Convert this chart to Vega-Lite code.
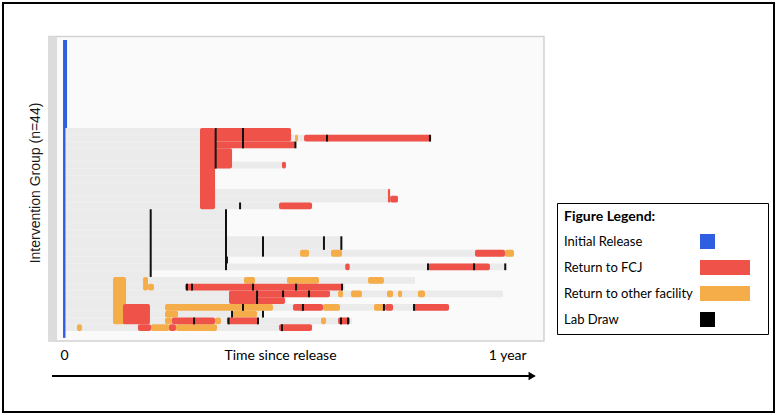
{
  "$schema": "https://vega.github.io/schema/vega-lite/v6.json",
  "width": 777,
  "height": 415,
  "autosize": {"type": "fit", "contains": "padding"},
  "padding": 3,
  "background": "white",
  "config": {
    "view": {"stroke": "black", "strokeWidth": 2},
    "axis": {"grid": false}
  },
  "datasets": {
    "release": [
      {"row": 0, "row2": 13, "start": -0.8, "end": 2.5, "type": "Initial Release"},
      {"row": 13, "row2": 44, "start": -0.8, "end": 1.2, "type": "Initial Release"}
    ],
    "followup": [
      {"row": 13, "row2": 14, "start": 0, "end": 187},
      {"row": 14, "row2": 15, "start": 0, "end": 303},
      {"row": 15, "row2": 16, "start": 0, "end": 191.1},
      {"row": 16, "row2": 17, "start": 0, "end": 138.4},
      {"row": 17, "row2": 18, "start": 0, "end": 138.4},
      {"row": 18, "row2": 19, "start": 0, "end": 182.8},
      {"row": 19, "row2": 20, "start": 0, "end": 124.4},
      {"row": 20, "row2": 21, "start": 0, "end": 124.4},
      {"row": 21, "row2": 22, "start": 0, "end": 124.4},
      {"row": 22, "row2": 23, "start": 0, "end": 268.4},
      {"row": 23, "row2": 24, "start": 0, "end": 275.1},
      {"row": 24, "row2": 25, "start": 0, "end": 204.3},
      {"row": 25, "row2": 26, "start": 0, "end": 133.4},
      {"row": 26, "row2": 27, "start": 0, "end": 133.4},
      {"row": 27, "row2": 28, "start": 0, "end": 133.4},
      {"row": 28, "row2": 29, "start": 0, "end": 133.4},
      {"row": 29, "row2": 30, "start": 0, "end": 229.8},
      {"row": 30, "row2": 31, "start": 0, "end": 229.8},
      {"row": 31, "row2": 32, "start": 0, "end": 370.6},
      {"row": 32, "row2": 33, "start": 0, "end": 135.1},
      {"row": 33, "row2": 34, "start": 0, "end": 364.9},
      {"row": 34, "row2": 35, "start": 0, "end": 71.4},
      {"row": 35, "row2": 36, "start": 0, "end": 289.1},
      {"row": 36, "row2": 37, "start": 0, "end": 231.4},
      {"row": 37, "row2": 38, "start": 0, "end": 361.6},
      {"row": 38, "row2": 39, "start": 0, "end": 183},
      {"row": 39, "row2": 40, "start": 0, "end": 317.1},
      {"row": 40, "row2": 41, "start": 0, "end": 163.9},
      {"row": 41, "row2": 42, "start": 0, "end": 237.2},
      {"row": 42, "row2": 43, "start": 0, "end": 204.3}
    ],
    "events": [
      {"row": 14, "row2": 15, "start": 190.3, "end": 192.7, "type": "Return to other facility"},
      {"row": 31, "row2": 32, "start": 194.4, "end": 201.8, "type": "Return to other facility"},
      {"row": 31, "row2": 32, "start": 219.9, "end": 229.0, "type": "Return to other facility"},
      {"row": 31, "row2": 32, "start": 363.2, "end": 370.6, "type": "Return to other facility"},
      {"row": 35, "row2": 42, "start": 40.4, "end": 51.1, "type": "Return to other facility"},
      {"row": 35, "row2": 37, "start": 65.1, "end": 69.2, "type": "Return to other facility"},
      {"row": 36, "row2": 37, "start": 69.2, "end": 74.1, "type": "Return to other facility"},
      {"row": 35, "row2": 36, "start": 148.2, "end": 157.3, "type": "Return to other facility"},
      {"row": 35, "row2": 36, "start": 183.7, "end": 210.0, "type": "Return to other facility"},
      {"row": 35, "row2": 36, "start": 250.4, "end": 263.5, "type": "Return to other facility"},
      {"row": 37, "row2": 38, "start": 225.7, "end": 229.8, "type": "Return to other facility"},
      {"row": 37, "row2": 38, "start": 236.4, "end": 245.4, "type": "Return to other facility"},
      {"row": 37, "row2": 38, "start": 266.0, "end": 271.0, "type": "Return to other facility"},
      {"row": 37, "row2": 38, "start": 275.1, "end": 278.4, "type": "Return to other facility"},
      {"row": 37, "row2": 38, "start": 291.5, "end": 297.3, "type": "Return to other facility"},
      {"row": 39, "row2": 40, "start": 83.2, "end": 172.1, "type": "Return to other facility"},
      {"row": 40, "row2": 41, "start": 83.2, "end": 93.9, "type": "Return to other facility"},
      {"row": 41, "row2": 42, "start": 83.2, "end": 88.9, "type": "Return to other facility"},
      {"row": 39, "row2": 40, "start": 213.3, "end": 227.3, "type": "Return to other facility"},
      {"row": 39, "row2": 40, "start": 255.3, "end": 264.4, "type": "Return to other facility"},
      {"row": 40, "row2": 41, "start": 139.2, "end": 159.0, "type": "Return to other facility"},
      {"row": 41, "row2": 42, "start": 124.4, "end": 129.3, "type": "Return to other facility"},
      {"row": 41, "row2": 42, "start": 211.7, "end": 215.8, "type": "Return to other facility"},
      {"row": 42, "row2": 43, "start": 10.7, "end": 14.8, "type": "Return to other facility"},
      {"row": 42, "row2": 43, "start": 71.7, "end": 86.5, "type": "Return to other facility"},
      {"row": 42, "row2": 43, "start": 92.2, "end": 126.0, "type": "Return to other facility"},
      {"row": 13, "row2": 25, "start": 112.0, "end": 124.4, "type": "Return to FCJ"},
      {"row": 13, "row2": 15, "start": 124.4, "end": 187.0, "type": "Return to FCJ"},
      {"row": 15, "row2": 16, "start": 124.4, "end": 191.1, "type": "Return to FCJ"},
      {"row": 16, "row2": 19, "start": 124.4, "end": 138.4, "type": "Return to FCJ"},
      {"row": 14, "row2": 15, "start": 197.7, "end": 302.3, "type": "Return to FCJ"},
      {"row": 18, "row2": 19, "start": 179.5, "end": 182.8, "type": "Return to FCJ"},
      {"row": 22, "row2": 24, "start": 266.8, "end": 268.6, "type": "Return to FCJ"},
      {"row": 23, "row2": 24, "start": 268.6, "end": 275.1, "type": "Return to FCJ"},
      {"row": 24, "row2": 25, "start": 177.1, "end": 204.3, "type": "Return to FCJ"},
      {"row": 33, "row2": 34, "start": 231.6, "end": 235.3, "type": "Return to FCJ"},
      {"row": 33, "row2": 34, "start": 299.8, "end": 350.8, "type": "Return to FCJ"},
      {"row": 31, "row2": 32, "start": 338.5, "end": 363.2, "type": "Return to FCJ"},
      {"row": 36, "row2": 37, "start": 99.7, "end": 229.8, "type": "Return to FCJ"},
      {"row": 37, "row2": 39, "start": 135.9, "end": 159.0, "type": "Return to FCJ"},
      {"row": 37, "row2": 38, "start": 159.0, "end": 219.1, "type": "Return to FCJ"},
      {"row": 38, "row2": 39, "start": 159.0, "end": 182.0, "type": "Return to FCJ"},
      {"row": 39, "row2": 42, "start": 48.6, "end": 70.8, "type": "Return to FCJ"},
      {"row": 39, "row2": 40, "start": 188.6, "end": 213.3, "type": "Return to FCJ"},
      {"row": 39, "row2": 40, "start": 264.4, "end": 271.0, "type": "Return to FCJ"},
      {"row": 39, "row2": 40, "start": 287.4, "end": 317.1, "type": "Return to FCJ"},
      {"row": 41, "row2": 42, "start": 88.9, "end": 124.4, "type": "Return to FCJ"},
      {"row": 41, "row2": 42, "start": 134.2, "end": 160.6, "type": "Return to FCJ"},
      {"row": 41, "row2": 42, "start": 225.7, "end": 235.5, "type": "Return to FCJ"},
      {"row": 42, "row2": 43, "start": 60.9, "end": 71.7, "type": "Return to FCJ"},
      {"row": 42, "row2": 43, "start": 86.5, "end": 92.2, "type": "Return to FCJ"},
      {"row": 42, "row2": 43, "start": 177.1, "end": 204.3, "type": "Return to FCJ"}
    ],
    "labs": [
      {"row": 13, "row2": 19, "day": 124.9},
      {"row": 13, "row2": 16, "day": 147.4},
      {"row": 14, "row2": 15, "day": 216.6},
      {"row": 14, "row2": 15, "day": 301.4},
      {"row": 15, "row2": 16, "day": 190.6},
      {"row": 24, "row2": 25, "day": 145.0},
      {"row": 25, "row2": 35, "day": 71.4},
      {"row": 25, "row2": 34, "day": 133.4},
      {"row": 29, "row2": 32, "day": 163.9},
      {"row": 29, "row2": 31, "day": 214.1},
      {"row": 29, "row2": 31, "day": 228.4},
      {"row": 32, "row2": 33, "day": 134.2},
      {"row": 33, "row2": 34, "day": 299.8},
      {"row": 33, "row2": 34, "day": 337.7},
      {"row": 33, "row2": 34, "day": 363.4},
      {"row": 36, "row2": 37, "day": 101.3},
      {"row": 36, "row2": 37, "day": 105.4},
      {"row": 36, "row2": 37, "day": 155.7},
      {"row": 36, "row2": 37, "day": 191.1},
      {"row": 36, "row2": 37, "day": 229.0},
      {"row": 37, "row2": 39, "day": 159.0},
      {"row": 37, "row2": 38, "day": 180.4},
      {"row": 37, "row2": 38, "day": 201.8},
      {"row": 39, "row2": 40, "day": 147.4},
      {"row": 39, "row2": 40, "day": 196.8},
      {"row": 39, "row2": 40, "day": 263.5},
      {"row": 39, "row2": 40, "day": 288.3},
      {"row": 40, "row2": 41, "day": 138.4},
      {"row": 40, "row2": 41, "day": 163.9},
      {"row": 41, "row2": 42, "day": 107.1},
      {"row": 41, "row2": 42, "day": 135.5},
      {"row": 41, "row2": 42, "day": 159.8},
      {"row": 41, "row2": 42, "day": 228.1},
      {"row": 41, "row2": 42, "day": 233.9},
      {"row": 42, "row2": 43, "day": 179.5}
    ],
    "types": [
      {"type": "Initial Release"},
      {"type": "Return to FCJ"},
      {"type": "Return to other facility"},
      {"type": "Lab Draw"}
    ]
  },
  "layer": [
    {
      "data": {"values": [{}]},
      "mark": {"type": "rect", "fill": "#fafafa", "stroke": "#d2d2d2", "strokeWidth": 1.5},
      "encoding": {
        "x": {
          "datum": -12.35, "type": "quantitative",
          "scale": {"domain": [-50.24, 584.75], "nice": false, "zero": false},
          "axis": {
            "orient": "bottom", "offset": -60, "values": [0, 365],
            "labelExpr": "datum.value == 0 ? '0' : '1 year'",
            "domain": false, "ticks": false, "tickSize": 0, "grid": false,
            "labelPadding": 3, "labelBaseline": "middle", "labelFont": "Lato", "labelFontSize": 14, "labelColor": "black",
            "labelFlush": false,
            "title": "Time since release", "titleFont": "Lato", "titleFontSize": 14, "titleFontWeight": "normal", "titleColor": "black",
            "titleX": 277, "titleY": 3, "titleAlign": "center", "titleBaseline": "middle"
          }
        },
        "x2": {"datum": 395.3},
        "y": {
          "datum": -0.52, "type": "quantitative",
          "scale": {"domain": [-5.465, 54.95], "nice": false, "zero": false, "reverse": true},
          "axis": {
            "orient": "left", "offset": -32, "labels": false, "ticks": false, "domain": false, "grid": false,
            "title": "Intervention Group (n=44)", "titleFont": "Liberation Sans", "titleFontSize": 14, "titleFontWeight": "normal", "titleColor": "#1a1a1a",
            "titleX": 0, "titleY": 179.5, "titleAngle": 270, "titleAlign": "center", "titleBaseline": "middle"
          }
        },
        "y2": {"datum": 44.46}
      }
    },
    {
      "data": {"values": [{}]},
      "mark": {"type": "rect", "fill": "#dcdcdc"},
      "encoding": {
        "x": {"datum": -12.35, "type": "quantitative"},
        "x2": {"datum": -5.76},
        "y": {"datum": -0.52, "type": "quantitative"},
        "y2": {"datum": 44.46}
      }
    },
    {
      "data": {"name": "followup"},
      "mark": {"type": "rect", "fill": "#ebebeb"},
      "encoding": {
        "x": {"field": "start", "type": "quantitative"},
        "x2": {"field": "end"},
        "y": {"field": "row", "type": "quantitative"},
        "y2": {"field": "row2"}
      }
    },
    {
      "data": {"name": "release"},
      "mark": {"type": "rect"},
      "encoding": {
        "x": {"field": "start", "type": "quantitative"},
        "x2": {"field": "end"},
        "y": {"field": "row", "type": "quantitative"},
        "y2": {"field": "row2"},
        "color": {"field": "type", "type": "nominal",
          "scale": {"domain": ["Initial Release", "Return to FCJ", "Return to other facility", "Lab Draw"], "range": ["#2f5fe0", "#ee5249", "#f5ad4a", "#000000"]}}
      }
    },
    {
      "data": {"name": "events"},
      "mark": {"type": "rect", "cornerRadius": 2},
      "encoding": {
        "x": {"field": "start", "type": "quantitative"},
        "x2": {"field": "end"},
        "y": {"field": "row", "type": "quantitative"},
        "y2": {"field": "row2"},
        "color": {"field": "type", "type": "nominal",
          "scale": {"domain": ["Initial Release", "Return to FCJ", "Return to other facility", "Lab Draw"], "range": ["#2f5fe0", "#ee5249", "#f5ad4a", "#000000"]}}
      }
    },
    {
      "data": {"name": "labs"},
      "mark": {"type": "rule", "color": "#111111", "strokeWidth": 2},
      "encoding": {
        "x": {"field": "day", "type": "quantitative"},
        "y": {"field": "row", "type": "quantitative"},
        "y2": {"field": "row2"}
      }
    },
    {
      "data": {"name": "types"},
      "mark": {"type": "point", "filled": true, "opacity": 0},
      "encoding": {
        "color": {"field": "type", "type": "nominal",
          "scale": {"domain": ["Initial Release", "Return to FCJ", "Return to other facility", "Lab Draw"], "range": ["#2f5fe0", "#ee5249", "#f5ad4a", "#000000"]},
          "legend": {
            "title": "Figure Legend:", "orient": "none", "legendX": 554, "legendY": 200,
            "strokeColor": "black", "padding": 7,
            "titleFont": "Lato", "titleFontSize": 14, "titleFontWeight": "bold", "titleColor": "black", "titlePadding": 10,
            "labelFont": "Lato", "labelFontSize": 13, "labelColor": "black", "labelLimit": 220,
            "symbolSize": 225, "symbolOffset": 153.5, "labelOffset": -168.5, "rowPadding": 11,
            "symbolOpacity": 1, "symbolStrokeWidth": 0
          }},
        "shape": {"field": "type", "type": "nominal",
          "scale": {"domain": ["Initial Release", "Return to FCJ", "Return to other facility", "Lab Draw"],
            "range": ["M-3.333,-1H-1.333V1H-3.333Z M4.667,0", "M-3.333,-1H3.333V1H-3.333Z M4.667,0", "M-3.333,-1H3.333V1H-3.333Z M4.667,0", "M-3.333,-1H-1.333V1H-3.333Z M4.667,0"]},
          "legend": {
            "title": "Figure Legend:", "orient": "none", "legendX": 554, "legendY": 200,
            "strokeColor": "black", "padding": 7,
            "titleFont": "Lato", "titleFontSize": 14, "titleFontWeight": "bold", "titleColor": "black", "titlePadding": 10,
            "labelFont": "Lato", "labelFontSize": 13, "labelColor": "black", "labelLimit": 220,
            "symbolSize": 225, "symbolOffset": 153.5, "labelOffset": -168.5, "rowPadding": 11,
            "symbolOpacity": 1, "symbolStrokeWidth": 0
          }}
      }
    },
    {
      "data": {"values": [{}]},
      "mark": {"type": "rule", "color": "black", "strokeWidth": 2},
      "encoding": {
        "x": {"datum": -9.9, "type": "quantitative"},
        "x2": {"datum": 384.5},
        "y": {"datum": 49.63, "type": "quantitative"}
      }
    },
    {
      "data": {"values": [{}]},
      "mark": {"type": "point", "shape": "triangle-right", "filled": true, "color": "black", "size": 70, "opacity": 1},
      "encoding": {
        "x": {"datum": 385.6, "type": "quantitative"},
        "y": {"datum": 49.63, "type": "quantitative"}
      }
    }
  ]
}
